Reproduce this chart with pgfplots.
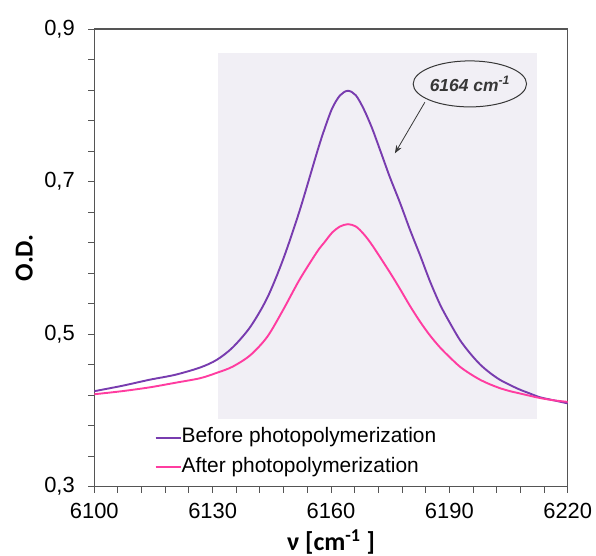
\documentclass[border=0pt]{standalone}
\usepackage{pgfplots}
\pgfplotsset{compat=1.18}
\usepackage{fontspec}
\setmainfont{Liberation Sans}
\newfontfamily\labelfont{Carlito}
\usetikzlibrary{shapes.geometric,arrows.meta}

\definecolor{beforecol}{RGB}{120,60,175}
\definecolor{aftercol}{RGB}{255,60,160}
\definecolor{axisgray}{RGB}{85,85,85}
\definecolor{bandfill}{RGB}{241,239,245}
\definecolor{notegray}{RGB}{55,55,55}

% O.D. spectra around the 6164 cm^-1 band
\pgfplotstableread{
nu      od
6100    0.425
6107    0.432
6114    0.440
6120.5  0.4465
6126.8  0.456
6131    0.466
6135    0.482
6139.5  0.509
6143.8  0.547
6147.8  0.597
6152    0.661
6156.5  0.739
6158.3  0.768
6160.3  0.796
6162.3  0.813
6164.3  0.819
6166.3  0.813
6168.3  0.795
6170.4  0.770
6172.6  0.739
6174.9  0.706
6177.5  0.672
6180    0.637
6182.6  0.603
6185.1  0.569
6187.7  0.538
6190.2  0.514
6192.7  0.492
6195.2  0.475
6197.8  0.460
6200.3  0.449
6202.8  0.440
6205.4  0.433
6207.9  0.427
6210.4  0.422
6213    0.417
6216.5  0.413
6220    0.409
}\before

\pgfplotstableread{
nu      od
6100    0.421
6107    0.425
6114    0.430
6120.5  0.436
6126.8  0.442
6131    0.449
6135    0.457
6139.5  0.472
6143.8  0.496
6147.8  0.531
6152    0.571
6156.5  0.608
6158.3  0.620
6160.3  0.633
6162.3  0.641
6164.3  0.644
6166.3  0.641
6168.3  0.631
6170.5  0.616
6174.9  0.581
6177.5  0.559
6180    0.537
6182.6  0.516
6185.1  0.498
6187.7  0.482
6190.2  0.469
6192.7  0.457
6195.2  0.448
6197.8  0.440
6200.3  0.434
6202.8  0.429
6205.4  0.425
6207.9  0.422
6210.4  0.419
6213    0.416
6216.5  0.413
6220    0.411
}\after

\begin{document}
\begin{tikzpicture}
\begin{axis}[
  name=ax, at={(0,0)}, anchor=south west,
  scale only axis, width=473.4bp, height=457.5bp,
  xmin=6100, xmax=6220, ymin=0.3, ymax=0.9,
  axis line style={draw=axisgray, line width=1.2bp},
  xtick={6100,6130,6160,6190,6220},
  xticklabels={6100,6130,6160,6190,6220},
  minor xtick={6106,6112,6118,6124,6136,6142,6148,6154,6166,6172,6178,6184,6196,6202,6208,6214},
  ytick={0.3,0.5,0.7,0.9},
  yticklabels={{0,3},{0,5},{0,7},{0,9}},
  minor ytick={0.34,0.38,0.42,0.46,0.54,0.58,0.62,0.66,0.74,0.78,0.82,0.86},
  tick align=outside, xtick pos=bottom, ytick pos=left,
  major tick length=6bp, minor tick length=6bp,
  every tick/.style={draw=axisgray, line width=1bp},
  minor tick style={draw=axisgray, line width=1bp},
  ticklabel style={font=\fontsize{22}{26}\selectfont, text=black},
  xticklabel style={yshift=-7bp},
  yticklabel style={xshift=-10bp},
  xlabel={ν [cm\textsuperscript{-1} ]},
  ylabel={O.D.},
  label style={font=\labelfont\bfseries\fontsize{26}{30}\selectfont},
  xlabel style={at={(axis description cs:0.5,-0.1213)}, anchor=center},
  ylabel style={at={(axis description cs:-0.1479,0.5)}, anchor=center},
  legend cell align=left,
  legend image code/.code={\draw[#1] (0bp,0bp) -- (25bp,0bp);},
  legend style={
    at={(axis cs:6114.5,0.381)}, anchor=north west,
    draw=none, fill=white, inner sep=3bp,
    font=\fontsize{21}{25}\selectfont,
    nodes={inner sep=0pt, text height=15bp, text depth=4.5bp},
    row sep=10bp,
    /tikz/every even column/.append style={column sep=3.5bp},
  },
]
  % shaded region behind the band
  \fill[bandfill] (axis cs:6131.3,0.388) rectangle (axis cs:6212.2,0.8685);

  \addplot[beforecol, line width=1.9bp, smooth] table[x=nu, y=od] {\before};
  \addlegendentry{Before photopolymerization}
  \addplot[aftercol, line width=1.9bp, smooth] table[x=nu, y=od] {\after};
  \addlegendentry{After photopolymerization}

  % peak annotation
  \node[ellipse, draw=notegray, line width=1bp, minimum width=105bp, minimum height=46bp, inner sep=0pt,
        font=\bfseries\itshape\fontsize{17.5}{20}\selectfont, text=notegray]
    at (axis cs:6195.2,0.828) {6164 cm\textsuperscript{-1}};
  \draw[notegray, line width=0.8bp, -{Stealth[length=8bp,width=6bp]}]
    (axis cs:6183.8,0.804) -- (axis cs:6176.2,0.737);
\end{axis}
\pgfresetboundingbox
\path (-94.3bp,-69.5bp) rectangle (501.7bp,486.5bp);
\end{tikzpicture}
\end{document}
